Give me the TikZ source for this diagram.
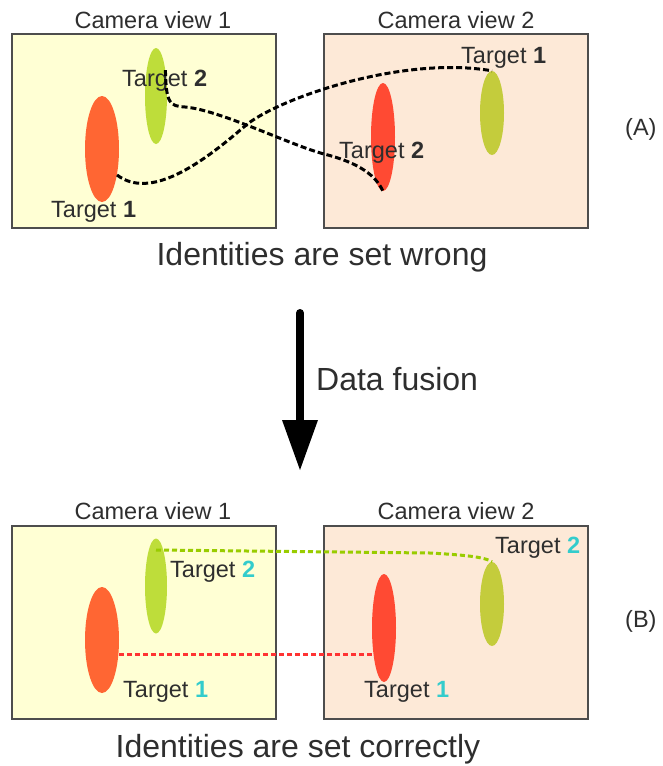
\documentclass[tikz,border=0pt]{standalone}
\usepackage{fontspec}
\setmainfont{Liberation Sans}
\usetikzlibrary{shapes.geometric}

\definecolor{txtgray}{HTML}{2E2E2E}
\definecolor{framegray}{HTML}{4D4D4D}
\definecolor{viewyellow}{HTML}{FFFFD4}
\definecolor{viewpeach}{HTML}{FDE9D7}
\definecolor{redA}{HTML}{FF6633}
\definecolor{redB}{HTML}{FF4A33}
\definecolor{greenA}{HTML}{BEDD3A}
\definecolor{greenB}{HTML}{C4CC3C}
\definecolor{idcyan}{HTML}{33CCCC}
\definecolor{linkgreen}{HTML}{99CC00}
\definecolor{linkred}{HTML}{FF3333}

\tikzset{
  camerabox/.style={draw=framegray, line width=2pt, minimum width=264pt, minimum height=194pt, inner sep=0pt},
  blob/.style={ellipse, draw=none, inner sep=0pt},
  smalltxt/.style={text=txtgray, inner sep=0pt, anchor=base west, font=\fontsize{23.5}{27}\selectfont},
  bigtxt/.style={text=txtgray, inner sep=0pt, anchor=base, font=\fontsize{32}{38}\selectfont},
  wronglink/.style={draw=black, line width=3pt, dash pattern=on 6pt off 3pt},
  rightlink/.style={line width=3pt, dash pattern=on 5pt off 3pt},
}

\begin{document}
\begin{tikzpicture}[x=1pt, y=-1pt]
\useasboundingbox (0,0) rectangle (662,766);

% ---------- (A): identities set wrong ----------
\node[camerabox, fill=viewyellow] (camA1) at (144,131) {};
\node[camerabox, fill=viewpeach]  (camA2) at (456,131) {};
\node[smalltxt, anchor=base] (capA1) at (153,28) {Camera view 1};
\node[smalltxt, anchor=base] (capA2) at (456,28) {Camera view 2};

\node[blob, fill=redA,   minimum width=34pt, minimum height=106pt] (redA1)   at (102,149) {};
\node[blob, fill=greenA, minimum width=22pt, minimum height=96pt]  (greenA1) at (156,96)  {};
\node[blob, fill=redB,   minimum width=24pt, minimum height=108pt] (redA2)   at (383,137) {};
\node[blob, fill=greenB, minimum width=24pt, minimum height=84pt]  (greenA2) at (492,113) {};

\node[smalltxt] (tA2l) at (122,86)  {Target \textbf{2}};
\node[smalltxt] (tA1l) at (51,217)  {Target \textbf{1}};
\node[smalltxt] (tA1r) at (461,63)  {Target \textbf{1}};
\node[smalltxt] (tA2r) at (339,158) {Target \textbf{2}};
\node[smalltxt] (labA) at (625,135) {(A)};

\coordinate (crossA) at (245,126);
\draw[wronglink] (redA1.-60) .. controls (150,200) and (200,165) .. (crossA)
  .. controls (275,100) and (400,55) .. (greenA2.north);
\draw[wronglink] (greenA1.70) .. controls (166,104) and (170,106) .. (185,107)
  .. controls (220,110) and (290,145) .. (324,154)
  .. controls (360,163) and (376,176) .. (redA2.south);

\node[bigtxt] (wrongtxt) at (322,265) {Identities are set wrong};

% ---------- data fusion arrow ----------
\coordinate (fuseTop) at (300,313);
\coordinate (fuseNeck) at (300,421);
\coordinate (fuseEnd) at (300,470);
\draw[line width=8pt, line cap=round] (fuseTop) -- (fuseNeck);
\fill (fuseNeck) +(-18,-1) -- +(18,-1) -- (fuseEnd) -- cycle;
\node[bigtxt, anchor=base west] (fusetxt) at (316,390) {Data fusion};

% ---------- (B): identities set correctly ----------
\node[camerabox, fill=viewyellow, minimum height=193pt] (camB1) at (144,622.5) {};
\node[camerabox, fill=viewpeach,  minimum height=193pt] (camB2) at (455.5,622.5) {};
\node[smalltxt, anchor=base] (capB1) at (153,519) {Camera view 1};
\node[smalltxt, anchor=base] (capB2) at (456,519) {Camera view 2};

\node[blob, fill=redA,   minimum width=34pt, minimum height=106pt] (redB1)   at (102,640) {};
\node[blob, fill=greenA, minimum width=22pt, minimum height=95pt]  (greenB1) at (156,586) {};
\node[blob, fill=redB,   minimum width=24pt, minimum height=108pt] (redB2)   at (384,628) {};
\node[blob, fill=greenB, minimum width=24pt, minimum height=84pt]  (greenB2) at (492,604) {};

\node[smalltxt] (tB2l) at (170,577) {Target \textcolor{idcyan}{\textbf{2}}};
\node[smalltxt] (tB1l) at (123,697) {Target \textcolor{idcyan}{\textbf{1}}};
\node[smalltxt] (tB2r) at (495,553) {Target \textcolor{idcyan}{\textbf{2}}};
\node[smalltxt] (tB1r) at (364,697) {Target \textcolor{idcyan}{\textbf{1}}};
\node[smalltxt] (labB) at (625,627) {(B)};

\coordinate (bendB) at (430,553);
\draw[rightlink, draw=linkgreen] (greenB1.center |- 0,550) -- (bendB)
  .. controls (465,555) and (485,557) .. (greenB2.north);
\draw[rightlink, draw=linkred] (redB1.east |- 0,654) -- (redB2.west |- 0,654);

\node[bigtxt] (righttxt) at (298,757) {Identities are set correctly};
\end{tikzpicture}
\end{document}
